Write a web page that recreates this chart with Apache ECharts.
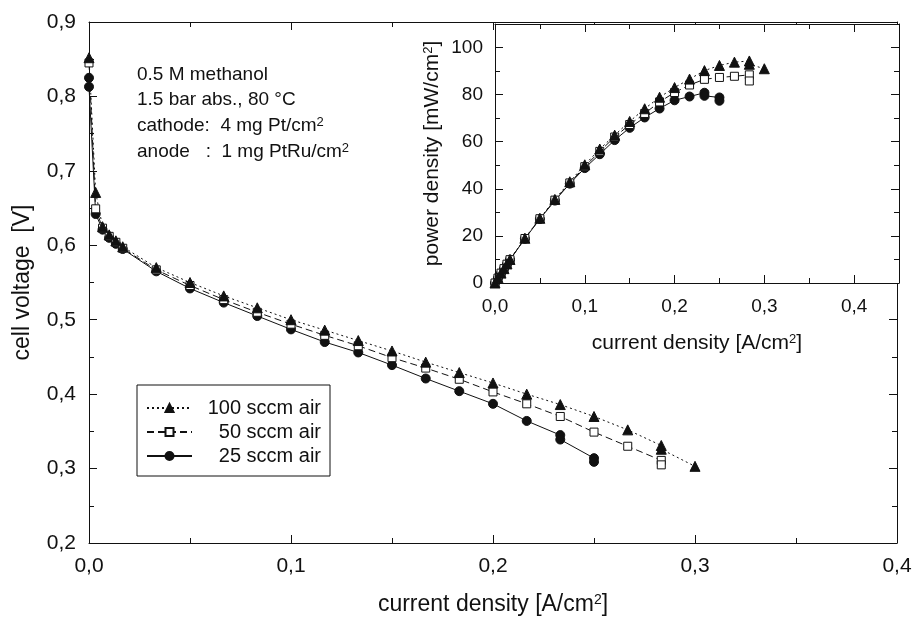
<!DOCTYPE html>
<html lang="en">

<head>
    <meta charset="UTF-8">
    <script src="https://cdn.jsdelivr.net/npm/echarts@6/dist/echarts.min.js"></script>
    <title>DMFC polarisation</title>
    <style>
        body { margin: 0; background: #fff; }
        #main { width: 918px; height: 622px; }
    </style>
</head>

<body>
    <div id="main"></div>

    <script>
        // current density [A/cm2] for each series
        var x100 = [0, 0.0033, 0.0067, 0.01, 0.0133, 0.0167, 0.0333, 0.05, 0.0667, 0.0833, 0.1, 0.1167, 0.1333, 0.15, 0.1667, 0.1833, 0.2, 0.2167, 0.2333, 0.25, 0.2667, 0.2833, 0.2833, 0.3];
        var x50 = [0, 0.0033, 0.0067, 0.01, 0.0133, 0.0167, 0.0333, 0.05, 0.0667, 0.0833, 0.1, 0.1167, 0.1333, 0.15, 0.1667, 0.1833, 0.2, 0.2167, 0.2333, 0.25, 0.2667, 0.2833, 0.2833];
        var x25 = [0, 0, 0.0033, 0.0067, 0.01, 0.0133, 0.0167, 0.0333, 0.05, 0.0667, 0.0833, 0.1, 0.1167, 0.1333, 0.15, 0.1667, 0.1833, 0.2, 0.2167, 0.2333, 0.2333, 0.25, 0.25];
        // cell voltage [V]
        var v100 = [0.852, 0.671, 0.625, 0.614, 0.606, 0.598, 0.570, 0.550, 0.532, 0.516, 0.500, 0.486, 0.472, 0.458, 0.443, 0.429, 0.415, 0.400, 0.386, 0.370, 0.352, 0.331, 0.326, 0.303];
        var v50 = [0.845, 0.649, 0.623, 0.612, 0.604, 0.596, 0.567, 0.546, 0.527, 0.510, 0.494, 0.479, 0.465, 0.449, 0.435, 0.420, 0.403, 0.387, 0.370, 0.349, 0.330, 0.311, 0.305];
        var v25 = [0.825, 0.813, 0.642, 0.621, 0.610, 0.602, 0.595, 0.565, 0.542, 0.523, 0.505, 0.487, 0.470, 0.456, 0.439, 0.421, 0.404, 0.387, 0.364, 0.345, 0.339, 0.314, 0.309];
        // inset: power density [mW/cm2]
        var xp25 = [0, 0.0033, 0.0067, 0.01, 0.0133, 0.0167, 0.0333, 0.05, 0.0667, 0.0833, 0.1, 0.1167, 0.1333, 0.15, 0.1667, 0.1833, 0.2, 0.2167, 0.2333, 0.2333, 0.25, 0.25];
        var p100 = [0, 2.2, 4.2, 6.1, 8.1, 10.0, 19.0, 27.5, 35.5, 43.0, 50.2, 56.9, 62.8, 68.6, 74.0, 78.9, 83.0, 86.6, 90.2, 92.4, 93.8, 94.3, 92.9, 91.0];
        var p50 = [0, 2.1, 4.2, 6.1, 8.0, 9.9, 18.9, 27.3, 35.2, 42.5, 49.4, 55.9, 62.0, 67.3, 72.0, 76.9, 80.9, 84.1, 86.5, 87.3, 87.8, 88.4, 85.8];
        var p25 = [0, 2.1, 4.1, 6.0, 7.9, 9.9, 18.8, 27.2, 35.0, 42.2, 48.8, 54.7, 60.7, 65.9, 70.3, 74.1, 77.6, 79.2, 80.8, 79.5, 78.8, 77.4];
        var names = ['100 sccm air', '50 sccm air', '25 sccm air'];
        var notes = ['0.5 M methanol', '1.5 bar abs., 80 °C', 'cathode:  4 mg Pt/cm{sup|2}', 'anode   :  1 mg PtRu/cm{sup|2}'];

        var FONT = '"Liberation Sans", Arial, sans-serif';
        var INK = '#111';

        function pairs(xs, ys) {
            return xs.map(function (x, i) { return [x, ys[i]]; });
        }

        // decimal comma, only on the round steps
        function comma(step) {
            return function (v) {
                var k = v / step;
                if (Math.abs(k - Math.round(k)) > 1e-6) return '';
                return v.toFixed(1).replace('.', ',');
            };
        }

        function supRich(size) {
            return { sup: { fontSize: size, verticalAlign: 'top', lineHeight: size + 1, fontFamily: FONT, color: INK } };
        }

        function valAxis(o) {
            var base = {
                type: 'value',
                axisLine: { show: true, onZero: false, lineStyle: { color: INK, width: 1 } },
                axisTick: { show: true, inside: true, length: 8, lineStyle: { color: INK } },
                minorTick: { show: true, splitNumber: 2, length: 5, lineStyle: { color: INK } },
                splitLine: { show: false },
                axisLabel: { show: true, color: INK, fontFamily: FONT, fontSize: 21 },
                nameTextStyle: { color: INK, fontFamily: FONT, fontSize: 23, rich: supRich(14) }
            };
            return echarts.util.merge(base, o, true);
        }

        var styles = [
            { type: [2, 3], symbol: 'triangle', size: 10, fill: INK },
            { type: [7, 4], symbol: 'rect', size: 8, fill: '#fff' },
            { type: 'solid', symbol: 'circle', size: 9, fill: INK }
        ];

        function line(name, data, st, xi, yi) {
            return {
                name: name,
                type: 'line',
                xAxisIndex: xi,
                yAxisIndex: yi,
                data: data,
                clip: false,
                symbol: st.symbol,
                symbolSize: st.size,
                showAllSymbol: true,
                lineStyle: { color: INK, width: 1, type: st.type },
                itemStyle: { color: st.fill, borderColor: INK, borderWidth: 1 },
                emphasis: { disabled: true },
                animation: false
            };
        }

        var myChart = echarts.init(document.getElementById('main'));

        var option = {
            backgroundColor: '#fff',
            animation: false,
            grid: [
                { left: 89, top: 22, width: 808, height: 521, show: false },
                { left: 495, top: 24, width: 404, height: 259, show: true, backgroundColor: '#fff', borderWidth: 0, z: 3 }
            ],
            xAxis: [
                valAxis({
                    gridIndex: 0, min: 0, max: 0.4, interval: 0.1,
                    axisLabel: { margin: 13, formatter: comma(0.1) },
                    name: 'current density [A/cm{sup|2}]', nameLocation: 'middle', nameGap: 50
                }),
                valAxis({
                    gridIndex: 0, position: 'top', min: 0, max: 0.4, interval: 0.1,
                    axisLabel: { show: false }
                }),
                valAxis({
                    gridIndex: 1, min: 0, max: 0.45, interval: 0.1, z: 4,
                    axisLabel: { margin: 14, fontSize: 19, formatter: comma(0.1) },
                    name: 'current density [A/cm{sup|2}]', nameLocation: 'middle', nameGap: 50,
                    nameTextStyle: { fontSize: 21, rich: supRich(13) }
                }),
                valAxis({
                    gridIndex: 1, position: 'top', min: 0, max: 0.45, interval: 0.1, z: 4,
                    axisLabel: { show: false }
                })
            ],
            yAxis: [
                valAxis({
                    gridIndex: 0, min: 0.2, max: 0.9, interval: 0.1,
                    axisLabel: { margin: 13, formatter: comma(0.1) },
                    name: 'cell voltage  [V]', nameLocation: 'middle', nameGap: 55
                }),
                valAxis({
                    gridIndex: 0, position: 'right', min: 0.2, max: 0.9, interval: 0.1,
                    axisLabel: { show: false }
                }),
                valAxis({
                    gridIndex: 1, min: 0, max: 110, interval: 20, z: 4,
                    axisLabel: {
                        margin: 12, fontSize: 19,
                        formatter: function (v) { return v % 20 === 0 ? String(v) : ''; }
                    },
                    name: 'power density [mW/cm{sup|2}]', nameLocation: 'middle', nameGap: 52,
                    nameTextStyle: { fontSize: 21, rich: supRich(13) }
                }),
                valAxis({
                    gridIndex: 1, position: 'right', min: 0, max: 110, interval: 20, z: 4,
                    axisLabel: { show: false }
                })
            ],
            legend: {
                data: names,
                left: 137,
                top: 385,
                orient: 'vertical',
                backgroundColor: '#fff',
                borderColor: INK,
                borderWidth: 1,
                borderRadius: 0,
                padding: [13, 9, 10, 9],
                itemGap: 4,
                itemWidth: 45,
                itemHeight: 10,
                selectedMode: false,
                formatter: function (n) { return '{r|' + n + '}'; },
                textStyle: {
                    color: INK, fontFamily: FONT, fontSize: 20,
                    rich: { r: { width: 124, align: 'right', fontSize: 20, lineHeight: 20, fontFamily: FONT, color: INK } }
                }
            },
            graphic: notes.map(function (t, i) {
                return {
                    type: 'text',
                    left: 137,
                    top: 65 + i * 25.7,
                    z: 10,
                    style: {
                        text: t,
                        fill: INK,
                        font: '19px ' + FONT,
                        rich: { sup: { fontSize: 13, verticalAlign: 'top', lineHeight: 13, fill: INK, fontFamily: FONT } }
                    }
                };
            }),
            series: [
                line(names[2], pairs(x25, v25), styles[2], 0, 0),
                line(names[1], pairs(x50, v50), styles[1], 0, 0),
                line(names[0], pairs(x100, v100), styles[0], 0, 0),
                line(names[2], pairs(xp25, p25), styles[2], 2, 2),
                line(names[1], pairs(x50, p50), styles[1], 2, 2),
                line(names[0], pairs(x100, p100), styles[0], 2, 2)
            ]
        };

        myChart.setOption(option);
    </script>
</body>

</html>
